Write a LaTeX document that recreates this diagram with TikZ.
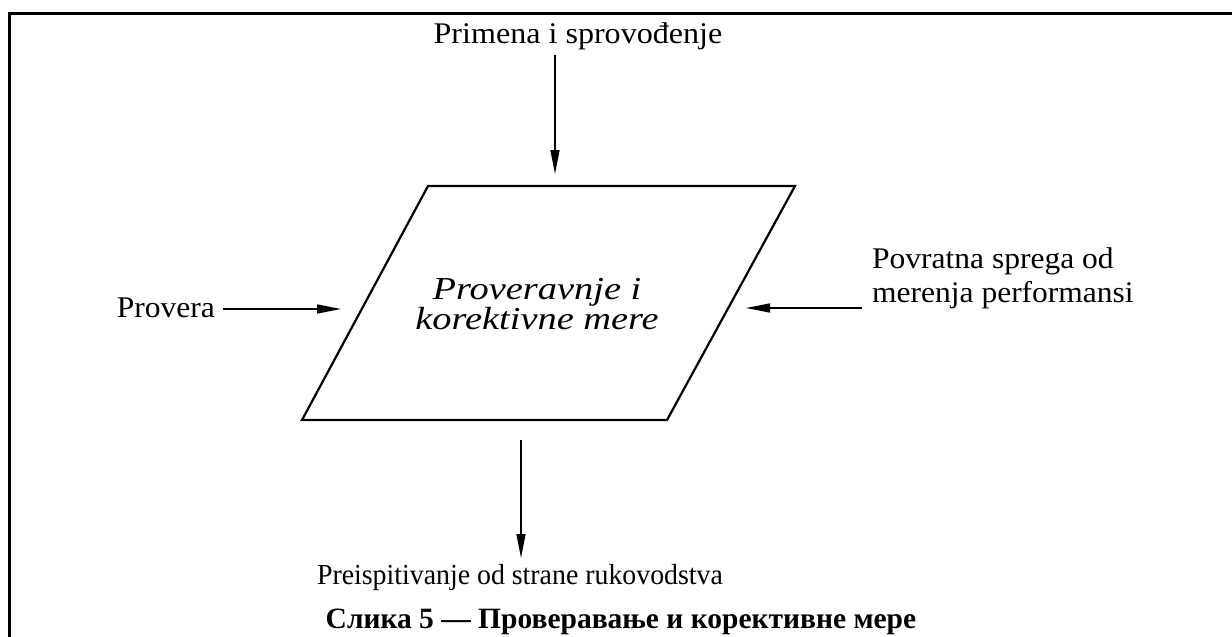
\documentclass[tikz,border=0pt]{standalone}
\usepackage{fontspec}
\setmainfont{Liberation Serif}
\usetikzlibrary{arrows.meta}
% font size with a horizontal stretch factor
\newcommand{\lblsize}[2]{\fontsize{#1}{34}\selectfont\addfontfeature{FakeStretch=#2}}
\begin{document}
\begin{tikzpicture}[x=1pt,y=-1pt,
  lbl/.style={inner sep=0pt,anchor=base},
  flow/.style={line width=1.5pt,-{Triangle[length=24pt,width=9pt]}},
  frame/.style={line width=3pt},
  shapeline/.style={line width=2.2pt,line join=miter}]
\useasboundingbox (0,0) rectangle (1232,637);

% open frame
\draw[frame] (9,640) -- (9,13) -- (1235,13);

% central parallelogram
\coordinate (ptl) at (428,186);
\coordinate (ptr) at (795,186);
\coordinate (pbr) at (667,420);
\coordinate (pbl) at (302,420);
\draw[shapeline] (ptl) -- (ptr) -- (pbr) -- (pbl) -- cycle;
\node[inner sep=0pt,align=center,
  font=\fontsize{32}{29.5}\selectfont\itshape\addfontfeature{FakeStretch=1.2}]
  (core) at (537,304) {Proveravnje i\\korektivne mere};

% labels
\node[lbl,font=\lblsize{30}{1.07}] (impl) at (578,43) {Primena i sprovođenje};
\node[lbl,anchor=base east,font=\lblsize{30}{1.05}] (check) at (215,317) {Provera};
\node[lbl,anchor=base west,align=left,font=\lblsize{30}{1.05}] (perf) at (872,302)
  {Povratna sprega od\\merenja performansi};
\node[lbl,font=\lblsize{29}{0.96}] (review) at (520,584) {Preispitivanje od strane rukovodstva};
\node[lbl,font=\fontsize{29.5}{30}\selectfont\bfseries]
  (caption) at (621,628) {Слика 5 — Проверавање и корективне мере};

% arrow end points
\coordinate (implA) at (555,55);
\coordinate (implB) at (555,174);
\coordinate (checkA) at (223,309);
\coordinate (checkB) at (341,309);
\coordinate (perfA) at (862,308);
\coordinate (perfB) at (746,308);
\coordinate (revA) at (521,440);
\coordinate (revB) at (521,558);

\draw[flow] (implA) -- (implB);
\draw[flow] (checkA) -- (checkB);
\draw[flow] (perfA) -- (perfB);
\draw[flow] (revA) -- (revB);
\end{tikzpicture}
\end{document}
